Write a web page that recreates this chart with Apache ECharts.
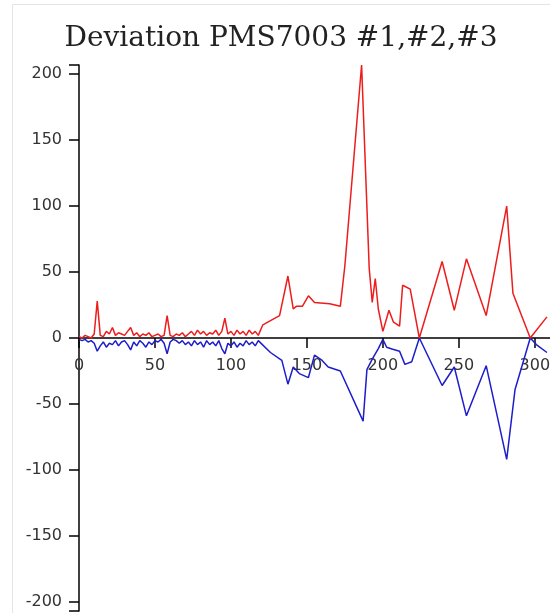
<!DOCTYPE html>
<html>
<head>
<meta charset="utf-8">
<script src="https://cdn.jsdelivr.net/npm/echarts@6/dist/echarts.min.js"></script>
<style>
html,body{margin:0;padding:0;background:#fff;}
#main{width:550px;height:613px;}
</style>
</head>
<body>
<div id="main"></div>
<script>
// ---- data ----
const titleText = "Deviation PMS7003 #1,#2,#3";
const xTicks = [0, 50, 100, 150, 200, 250, 300];
const yTicks = [-200, -150, -100, -50, 0, 50, 100, 150, 200];

const redX = [0,2,4,6,8,10,12,14,16,18,20,22,24,26,28,30,32,34,36,38,40,42,44,46,48,50,52,54,56,58,
  60,62,64,66,68,70,72,74,76,78,80,82,84,86,88,90,92,94,96,98,100,102,104,106,108,110,112,114,116,118,
  121,132,137.5,141,143,147,151,155,165,172,175,186,191,193,195,197,200,204,207,211,213,218,224,239,247,255,268,281.5,285.6,297,308];
const redY = [1,0,2,1,0,3,28,2,1,5,3,8,2,4,3,2,5,8,2,4,1,3,2,4,1,2,3,1,2,17,
  2,1,3,2,4,1,3,5,2,6,3,5,2,4,3,6,2,5,15,3,5,2,6,3,5,2,6,3,5,2,
  10,17,47,22,24,24,32,27,26,24,55,207,53,27,45,22,5,21,12,9,40,37,0,58,21,60,17,100,34,0,16];

const blueX = [0,2,4,6,8,10,12,14,16,18,20,22,24,26,28,30,32,34,36,38,40,42,44,46,48,50,52,54,56,58,
  60,62,64,66,68,70,72,74,76,78,80,82,84,86,88,90,92,94,96,98,100,102,104,106,108,110,112,114,116,118,
  126,133.5,137.5,141,145,151,155,160,164,172,187,189.5,193,197,200,202.5,206.5,211,214.5,219,224,239,247,255,268,281.5,287,297,301,308];
const blueY = [-1,-2,-1,-3,-2,-4,-10,-6,-3,-7,-4,-5,-2,-6,-3,-2,-5,-9,-3,-6,-2,-4,-7,-3,-5,-2,-3,-1,-4,-12,
  -3,-1,-2,-4,-2,-5,-3,-6,-2,-5,-3,-7,-2,-5,-3,-6,-2,-8,-12,-4,-6,-3,-7,-4,-6,-2,-5,-3,-6,-2,
  -11,-17,-35,-22,-27,-30,-13,-17,-22,-25,-63,-24,-16,-8,-1,-7,-8.5,-10,-20,-18,0,-36,-22,-59,-21,-92,-39,0,-5,-11];

const zip = (xs, ys) => xs.map((x, i) => [x, ys[i]]);

const chart = echarts.init(document.getElementById('main'), null, {renderer: 'canvas'});
const labelFont = {color: '#333', fontSize: 16, fontFamily: 'DejaVu Sans'};
const X_MIN = 0, X_MAX = 310, Y_MIN = -207, Y_MAX = 207;

chart.setOption({
  animation: false,
  backgroundColor: '#fff',
  title: {
    text: titleText,
    left: 276, top: 20, textAlign: 'center',
    textStyle: {fontFamily: 'DejaVu Serif', fontSize: 28, fontWeight: 'normal', color: '#222'}
  },
  graphic: [{
    type: 'rect', shape: {x: 12.5, y: 4.5, width: 560, height: 620},
    style: {fill: 'none', stroke: '#e4e4e4', lineWidth: 1}, z: -1
  }],
  grid: [
    {left: 79, top: 65, width: 471, height: 546, outerBoundsMode: 'none', containLabel: false},
    {left: 79, top: 65, width: 471, height: 273, outerBoundsMode: 'none', containLabel: false}
  ],
  xAxis: [{
    gridIndex: 0, type: 'value', min: X_MIN, max: X_MAX,
    axisLine: {show: false}, axisTick: {show: false}, axisLabel: {show: false}, splitLine: {show: false}
  }, {
    gridIndex: 1, type: 'value', min: X_MIN, max: X_MAX, position: 'bottom',
    axisLine: {onZero: false, lineStyle: {color: '#000', width: 1.5}},
    axisTick: {show: true, length: 10, customValues: xTicks, lineStyle: {color: '#000', width: 1.5}},
    axisLabel: Object.assign({customValues: xTicks, margin: 20, hideOverlap: false}, labelFont),
    splitLine: {show: false}
  }],
  yAxis: [{
    gridIndex: 0, type: 'value', min: Y_MIN, max: Y_MAX,
    axisLine: {show: true, onZero: false, lineStyle: {color: '#000', width: 1.5}},
    axisTick: {show: true, length: 10, customValues: [Y_MIN].concat(yTicks, [Y_MAX]), lineStyle: {color: '#000', width: 1.5}},
    axisLabel: Object.assign({customValues: yTicks, margin: 17}, labelFont),
    splitLine: {show: false}
  }, {
    gridIndex: 1, type: 'value', min: 0, max: 1, show: false
  }],
  series: [
    {type: 'line', xAxisIndex: 0, yAxisIndex: 0, data: zip(redX, redY), showSymbol: false, lineStyle: {color: '#ee1c1c', width: 1.5}, itemStyle: {color: '#ee1c1c'}, z: 3},
    {type: 'line', xAxisIndex: 0, yAxisIndex: 0, data: zip(blueX, blueY), showSymbol: false, lineStyle: {color: '#1d1dcc', width: 1.5}, itemStyle: {color: '#1d1dcc'}, z: 2}
  ]
});
</script>
</body>
</html>
